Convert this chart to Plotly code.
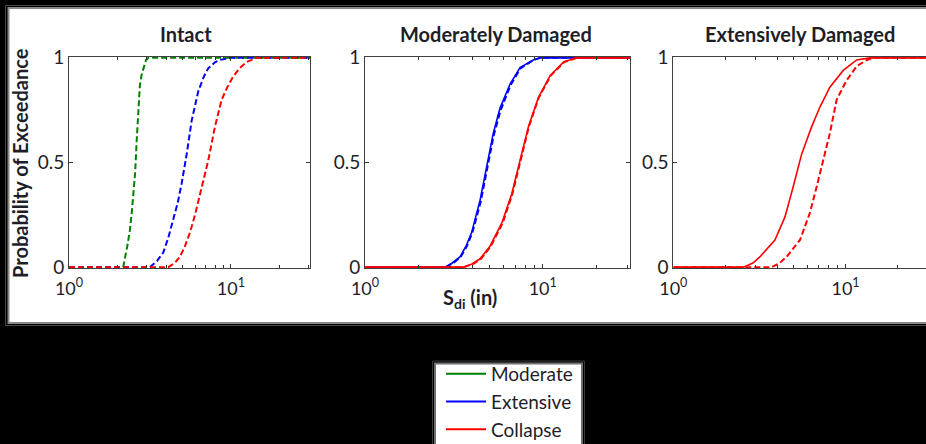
import plotly.graph_objects as go

W, H = 926, 444

# ---------------- data ----------------
# Intact panel (all dashed)
intact_mod_x = [1.0, 2.16, 2.29, 2.38, 2.44, 2.50, 2.56, 2.62, 2.68, 2.74, 2.81, 2.90, 2.99, 3.1, 32]
intact_mod_y = [0.0, 0.0, 0.10, 0.18, 0.26, 0.36, 0.45, 0.61, 0.78, 0.87, 0.92, 0.96, 0.99, 1.0, 1.0]
intact_ext_x = [1.0, 3.16, 3.50, 3.82, 4.10, 4.40, 4.70, 4.96, 5.33, 5.72, 6.28, 6.80, 7.24, 8.00, 8.55, 10.0, 32]
intact_ext_y = [0.0, 0.0, 0.03, 0.07, 0.14, 0.23, 0.31, 0.40, 0.54, 0.70, 0.84, 0.91, 0.95, 0.98, 0.99, 1.0, 1.0]
intact_col_x = [1.0, 4.10, 4.50, 4.84, 5.20, 5.58, 6.00, 6.44, 6.85, 7.24, 7.96, 8.76, 9.50, 10.3, 11.3, 12.5, 14.4, 32]
intact_col_y = [0.0, 0.0, 0.02, 0.05, 0.10, 0.165, 0.25, 0.35, 0.43, 0.51, 0.67, 0.80, 0.86, 0.91, 0.95, 0.98, 1.0, 1.0]

# Moderately damaged panel (solid = one set, dashed = other set)
mod_ext_solid_x = [1.0, 2.82, 3.10, 3.43, 3.70, 3.98, 4.44, 4.84, 5.27, 5.75, 6.55, 7.45, 8.85, 9.66, 32]
mod_ext_solid_y = [0.0, 0.0, 0.02, 0.05, 0.10, 0.165, 0.32, 0.48, 0.64, 0.76, 0.875, 0.954, 0.99, 1.0, 1.0]
mod_ext_dash_x = [1.0, 2.85, 3.15, 3.46, 3.74, 4.02, 4.47, 4.88, 5.30, 5.80, 6.60, 7.50, 8.90, 9.70, 32]
mod_ext_dash_y = [0.0, 0.0, 0.02, 0.05, 0.10, 0.165, 0.31, 0.47, 0.63, 0.75, 0.87, 0.95, 0.99, 1.0, 1.0]
mod_col_solid_x = [1.0, 3.57, 4.00, 4.44, 5.05, 5.88, 6.69, 7.45, 8.30, 9.45, 11.0, 13.1, 15.5, 32]
mod_col_solid_y = [0.0, 0.0, 0.015, 0.04, 0.10, 0.21, 0.35, 0.51, 0.67, 0.81, 0.915, 0.98, 1.0, 1.0]
mod_col_dash_x = [1.0, 3.60, 4.05, 4.50, 5.10, 5.95, 6.75, 7.50, 8.35, 9.50, 11.1, 13.2, 15.6, 32]
mod_col_dash_y = [0.0, 0.0, 0.015, 0.04, 0.10, 0.21, 0.35, 0.51, 0.67, 0.81, 0.915, 0.98, 1.0, 1.0]

# Extensively damaged panel (collapse only)
ext_col_solid_x = [1.0, 2.55, 2.90, 3.19, 3.89, 4.45, 4.97, 5.56, 6.35, 7.10, 8.11, 9.70, 11.6, 13.8, 32]
ext_col_solid_y = [0.0, 0.0, 0.02, 0.05, 0.13, 0.24, 0.385, 0.54, 0.67, 0.765, 0.86, 0.94, 0.99, 1.0, 1.0]
ext_col_dash_x = [1.0, 3.72, 4.15, 4.55, 5.44, 6.21, 6.80, 7.59, 8.11, 8.88, 10.1, 11.6, 13.3, 14.5, 32]
ext_col_dash_y = [0.0, 0.0, 0.02, 0.05, 0.13, 0.26, 0.385, 0.54, 0.64, 0.80, 0.89, 0.96, 0.99, 1.0, 1.0]

panel_titles = ["Intact", "Moderately Damaged", "Extensively Damaged"]
legend_names = ["Moderate", "Extensive", "Collapse"]
y_ticks = [0, 0.5, 1]
y_ticktext = ["0", "0.5", "1"]
x_tickvals = [1, 10]
x_ticktext = ["10<sup>0</sup>", "10<sup>1</sup>"]
x_minor_vals = [2, 3, 4, 5, 6, 7, 8, 9, 20, 30]

GREEN, BLUE, RED = "#008000", "#0000FF", "#FF0000"
TXT = "#1e1e28"
FONT = "Lato"

def px(x):
    return x / W

def py(y):
    return 1 - y / H

fig = go.Figure()

DASH = "6px,3px"

def add(xs, ys, color, dash, axis, width=2):
    fig.add_trace(go.Scatter(x=xs, y=ys, mode="lines", showlegend=False,
                             line=dict(color=color, width=width, dash=dash),
                             xaxis="x" + axis, yaxis="y" + axis, hoverinfo="skip"))

add(intact_mod_x, intact_mod_y, GREEN, DASH, "")
add(intact_ext_x, intact_ext_y, BLUE, DASH, "")
add(intact_col_x, intact_col_y, RED, DASH, "")

add(mod_ext_dash_x, mod_ext_dash_y, BLUE, DASH, "2")
add(mod_ext_solid_x, mod_ext_solid_y, BLUE, "solid", "2", 1.6)
add(mod_col_dash_x, mod_col_dash_y, RED, DASH, "2")
add(mod_col_solid_x, mod_col_solid_y, RED, "solid", "2", 1.6)

add(ext_col_dash_x, ext_col_dash_y, RED, DASH, "3")
add(ext_col_solid_x, ext_col_solid_y, RED, "solid", "3", 1.6)

# legend-only entries
for name, col in zip(legend_names, [GREEN, BLUE, RED]):
    fig.add_trace(go.Scatter(x=[None], y=[None], mode="lines", name=name,
                             line=dict(color=col, width=2), showlegend=True))

# panel geometry (pixels)
panels = [(69, 310, 1.488), (365, 630, 1.491), (673.3, 926, 1.467)]
ytop, ybot = 57, 268

layout = dict(
    width=W, height=H,
    margin=dict(l=0, r=0, t=0, b=0, autoexpand=False),
    paper_bgcolor="black", plot_bgcolor="white",
    font=dict(family=FONT, color=TXT, size=17),
    showlegend=True,
    legend=dict(x=px(441), y=py(355), xanchor="left", yanchor="top",
                bgcolor="rgba(0,0,0,0)", borderwidth=0,
                font=dict(family=FONT, size=19, color=TXT),
                itemwidth=40, tracegroupgap=0),
)

for i, (x0, x1, rmax) in enumerate(panels):
    sfx = "" if i == 0 else str(i + 1)
    layout["xaxis" + sfx] = dict(
        type="log", range=[0, rmax], domain=[px(x0), px(x1)],
        anchor="y" + sfx, tickmode="array", tickvals=x_tickvals, ticktext=x_ticktext,
        ticks="inside", ticklen=4, tickcolor="#333333", showgrid=False, zeroline=False,
        minor=dict(tickmode="array", tickvals=x_minor_vals, ticks="inside", ticklen=3,
                   tickcolor="#333333", showgrid=False),
        showline=True, linecolor="#404040", linewidth=1, mirror="ticks",
        ticklabelstandoff=4,
        tickfont=dict(family=FONT, size=18, color=TXT),
    )
    layout["yaxis" + sfx] = dict(
        range=[-0.004, 1.004], domain=[py(ybot), py(ytop)],
        anchor="x" + sfx, tickmode="array", tickvals=y_ticks, ticktext=y_ticktext,
        ticks="inside", ticklen=4, tickcolor="#333333", showgrid=False, zeroline=False,
        showline=True, linecolor="#404040", linewidth=1,
        mirror=("ticks" if i < 2 else False),
        tickfont=dict(family=FONT, size=19, color=TXT),
    )

fig.update_layout(**layout)

# background frames
shapes = [
    dict(type="rect", xref="paper", yref="paper", x0=px(5.5), x1=px(940), y0=py(5.5), y1=py(325.5),
         line=dict(color="#4a4a4a", width=1), fillcolor="black", layer="below"),
    dict(type="rect", xref="paper", yref="paper", x0=px(8.5), x1=px(940), y0=py(8), y1=py(323),
         line=dict(color="#8a8a8a", width=2), fillcolor="white", layer="below"),
    dict(type="rect", xref="paper", yref="paper", x0=px(432.5), x1=px(584.5), y0=py(361), y1=py(460),
         line=dict(color="#3a3a3a", width=1), fillcolor="black", layer="below"),
    dict(type="rect", xref="paper", yref="paper", x0=px(435), x1=px(582), y0=py(363.5), y1=py(460),
         line=dict(color="#707070", width=2), fillcolor="white", layer="below"),
]
fig.update_layout(shapes=shapes)

annotations = []
title_centers = [186, 495.5, 800]
for t, cx in zip(panel_titles, title_centers):
    annotations.append(dict(text="<b>" + t + "</b>", x=px(cx), y=py(34), xref="paper", yref="paper",
                            showarrow=False, xanchor="center", yanchor="middle",
                            font=dict(family=FONT, size=20, color=TXT)))
annotations.append(dict(text="<b>Probability of Exceedance</b>", x=px(20), y=py(163), xref="paper", yref="paper",
                        showarrow=False, textangle=-90, xanchor="center", yanchor="middle",
                        font=dict(family=FONT, size=20, color=TXT)))
annotations.append(dict(text="<b>S<sub>di</sub> (in)</b>", x=px(470), y=py(298), xref="paper", yref="paper",
                        showarrow=False, xanchor="center", yanchor="middle",
                        font=dict(family=FONT, size=20, color=TXT)))
fig.update_layout(annotations=annotations)

fig.write_html("out.html")
